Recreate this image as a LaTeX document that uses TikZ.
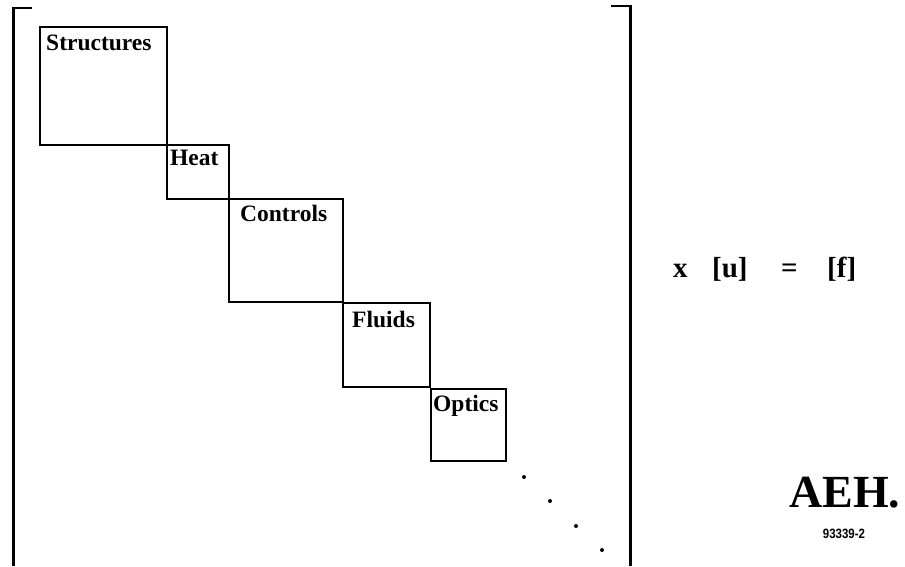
\documentclass[tikz,border=0pt]{standalone}
\usepackage{fontspec}
\setmainfont{Liberation Serif}
\newfontfamily\sansb{Liberation Sans}
\begin{document}
\begin{tikzpicture}[x=1pt,y=-1pt,
  blk/.style={draw,line width=1.4pt,rectangle,inner sep=0pt,outer sep=0pt,anchor=north west},
  lbl/.style={anchor=base west,inner sep=0pt,font=\fontsize{23.5}{26}\selectfont\bfseries},
  eqt/.style={anchor=base west,inner sep=0pt,font=\fontsize{29}{31}\selectfont\bfseries},
  brk/.style={line width=3pt},
  brktick/.style={line width=2pt},
  dotm/.style={fill=black}]
\useasboundingbox (0,0) rectangle (905,566);
% brackets
\draw[brk] (13,7) -- (13,566);
\draw[brktick] (12,8) -- (32,8);
\draw[brk] (630,5) -- (630,566);
\draw[brktick] (611,6) -- (631,6);
% blocks
\node[blk,minimum width=127pt,minimum height=118pt] (str) at (40,27) {};
\node[blk,minimum width=62pt,minimum height=54pt] (heat) at (167,145) {};
\node[blk,minimum width=114pt,minimum height=103pt] (ctl) at (229,199) {};
\node[blk,minimum width=87pt,minimum height=84pt] (fld) at (343,303) {};
\node[blk,minimum width=75pt,minimum height=72pt] (opt) at (431,389) {};
% labels
\node[lbl] (lstr) at (46,50) {Structures};
\node[lbl] (lheat) at (170,165.5) {Heat};
\node[lbl] (lctl) at (240,221.5) {Controls};
\node[lbl] (lfld) at (352,327.5) {Fluids};
\node[lbl] (lopt) at (433,411) {Optics};
% dots
\fill[dotm] (524,477) circle (2);
\fill[dotm] (550,501) circle (2);
\fill[dotm] (576,526) circle (2);
\fill[dotm] (602,550) circle (2);
% equation
\node[eqt] (ex) at (673,277) {x};
\node[eqt] (eu) at (712,277) {[u]};
\node[eqt] (eeq) at (781,277) {=};
\node[eqt] (ef) at (827,277) {[f]};
% logo
\node[anchor=base west,inner sep=0pt,font=\fontsize{46}{50}\selectfont\bfseries] (aeh) at (789,507) {AEH.};
\node[anchor=base,inner sep=0pt,font=\sansb\fontsize{13.5}{15}\selectfont\bfseries,xscale=0.85] (num) at (844,538) {93339-2};
\end{tikzpicture}
\end{document}
